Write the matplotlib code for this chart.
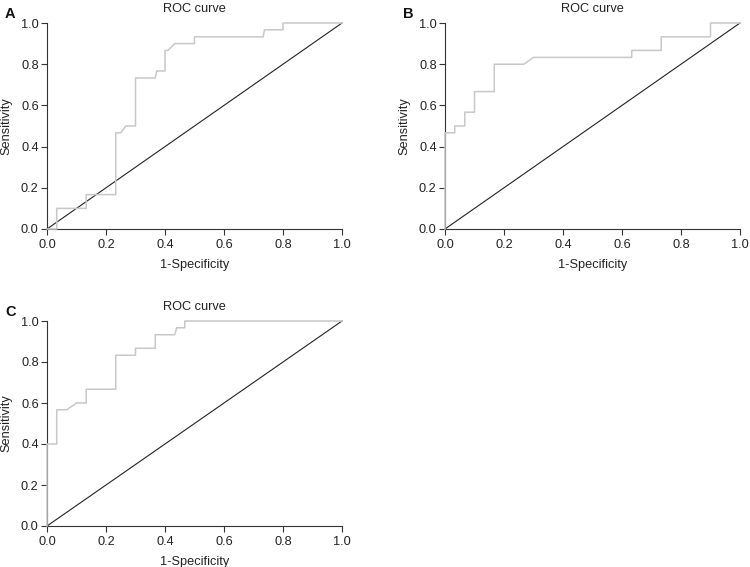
import matplotlib
matplotlib.use("Agg")
import matplotlib.pyplot as plt

plt.rcParams['font.family'] = ['Liberation Sans', 'DejaVu Sans']

# ROC curve A
fpr_a = [0.0, 0.033, 0.033, 0.133, 0.133, 0.233, 0.233, 0.25, 0.267, 0.3, 0.3, 0.367, 0.372, 0.4, 0.4, 0.41, 0.433, 0.5, 0.5, 0.733, 0.737, 0.8, 0.8, 1.0]
tpr_a = [0.0, 0.0, 0.1, 0.1, 0.167, 0.167, 0.467, 0.467, 0.5, 0.5, 0.733, 0.733, 0.767, 0.767, 0.867, 0.867, 0.9, 0.9, 0.933, 0.933, 0.967, 0.967, 1.0, 1.0]

# ROC curve B
fpr_b = [0.0, 0.0, 0.033, 0.033, 0.067, 0.067, 0.1, 0.1, 0.167, 0.167, 0.267, 0.3, 0.633, 0.633, 0.733, 0.733, 0.9, 0.9, 1.0]
tpr_b = [0.0, 0.467, 0.467, 0.5, 0.5, 0.567, 0.567, 0.667, 0.667, 0.8, 0.8, 0.833, 0.833, 0.867, 0.867, 0.933, 0.933, 1.0, 1.0]

# ROC curve C
fpr_c = [0.0, 0.0, 0.033, 0.033, 0.067, 0.1, 0.133, 0.133, 0.233, 0.233, 0.3, 0.3, 0.367, 0.367, 0.433, 0.44, 0.467, 0.467, 1.0]
tpr_c = [0.0, 0.4, 0.4, 0.567, 0.567, 0.6, 0.6, 0.667, 0.667, 0.833, 0.833, 0.867, 0.867, 0.933, 0.933, 0.967, 0.967, 1.0, 1.0]

ticks = [0.0, 0.2, 0.4, 0.6, 0.8, 1.0]
tick_labels = ["0.0", "0.2", "0.4", "0.6", "0.8", "1.0"]

W, H = 750, 567
fig = plt.figure(figsize=(7.5, 5.67), dpi=100)

def make_ax(l, r, t, b):
    return fig.add_axes([l / W, 1 - b / H, (r - l) / W, (b - t) / H])

panels = [
    ("A", make_ax(47, 342, 23, 229), fpr_a, tpr_a, (5, 14)),
    ("B", make_ax(445, 740, 23, 229), fpr_b, tpr_b, (403, 14)),
    ("C", make_ax(47, 342, 321, 526), fpr_c, tpr_c, (5, 312)),
]

FS = 9.2
for letter, ax, fx, ty, (lx, ly) in panels:
    ax.plot([0, 1], [0, 1], color='#222222', lw=0.8, zorder=2, clip_on=False)
    ax.plot(fx, ty, color='#c8c8c8', lw=1.1, zorder=3, clip_on=False)
    ax.set_xlim(0, 1)
    ax.set_ylim(0, 1)
    ax.set_xticks(ticks)
    ax.set_yticks(ticks)
    ax.set_xticklabels(tick_labels)
    ax.set_yticklabels(tick_labels)
    for s in ['top', 'right']:
        ax.spines[s].set_visible(False)
    for s in ['left', 'bottom']:
        ax.spines[s].set_color('#333333')
        ax.spines[s].set_linewidth(0.8)
    ax.tick_params(direction='out', length=4, width=0.8, color='#333333',
                   labelsize=FS, labelcolor='#222222')
    ax.tick_params(axis='x', pad=3)
    ax.tick_params(axis='y', pad=2)
    ax.set_xlabel("1-Specificity", fontsize=FS, color='#222222', labelpad=6)
    ax.set_ylabel("Sensitivity", fontsize=FS, color='#222222', labelpad=6)
    ax.set_title("ROC curve", fontsize=FS, color='#222222', pad=8)
    fig.text(lx / W, 1 - ly / H, letter, fontsize=10.5, fontweight='bold',
             ha='left', va='center', color='#111111')

fig.savefig("out.png", dpi=100)
